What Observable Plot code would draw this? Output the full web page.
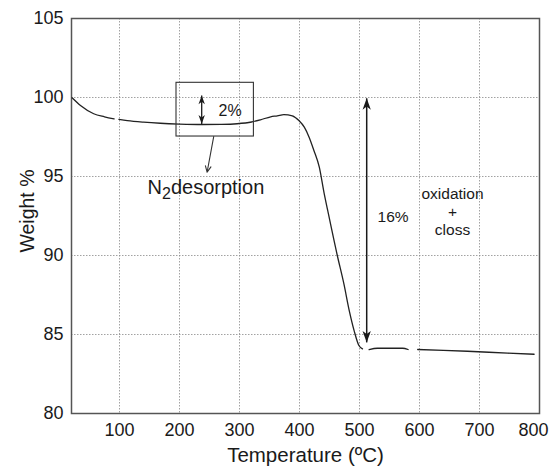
<!DOCTYPE html>
<html>
<head>
<meta charset="utf-8">
<script src="https://cdn.jsdelivr.net/npm/d3@7"></script>
<script src="https://cdn.jsdelivr.net/npm/@observablehq/plot@0.6"></script>
<style>
  body { margin: 0; background: #fff; }
  #chart svg { display: block; }
</style>
</head>
<body>
<div id="chart"></div>
<script>
// ---- data ----
const temperature = [21, 35, 57, 75, 91, 95, 99, 113, 140, 168, 200, 238, 270, 296, 320, 335, 352, 363, 374, 388, 399, 408, 416, 424, 433, 441, 447, 463, 474, 483, 491, 499, 505, 510, 516, 530, 572, 581, 590, 597, 640, 680, 747, 791];
const weight = [99.98, 99.49, 98.97, 98.78, 98.65, null, 98.62, 98.54, 98.44, 98.37, 98.32, 98.29, 98.30, 98.34, 98.45, 98.59, 98.78, 98.84, 98.92, 98.84, 98.54, 98.12, 97.49, 96.65, 95.59, 93.95, 92.85, 90.0, 88.2, 86.5, 85.25, 84.3, 84.09, null, 84.05, 84.13, 84.13, 84.05, null, 84.05, 84.0, 83.94, 83.82, 83.75];

const xTicks = [100, 200, 300, 400, 500, 600, 700, 800];
const yTicks = [80, 85, 90, 95, 100, 105];
const xLabel = "Temperature (ºC)";
const yLabel = "Weight %";

// annotation: box around the N2 desorption step
const boxX = [195, 324];
const boxY = [97.53, 100.93];
// small double arrow (2%)
const smallArrowX = 237;
const smallArrowY = [98.33, 100.13];
// pointer arrow from box to label
const pointerFrom = [257, 97.53];
const pointerTo = [246, 95.27];
// big double arrow (16%)
const bigArrowX = 512;
const bigArrowY = [84.5, 99.95];

// text annotations
const stepText = "2%";
const stepPos = [265, 99.15];
const desorptionText = "N2desorption";
const desorptionPos = [244, 94.3];
const lossText = "16%";
const lossPos = [556, 92.45];
const oxidationText = "oxidation\n+\ncloss";
const oxidationPos = [655, 92.8];

// ---- build ----
const series = temperature.map((t, i) => ({t, w: weight[i]}));

function headSymbol(dir) {
  return {
    draw(ctx, size) {
      const L = Math.sqrt(size);
      const w = L * 0.36;
      const s = dir; // 1 => pointing up, -1 => pointing down
      ctx.moveTo(0, 0);
      ctx.lineTo(w, s * L);
      ctx.lineTo(0, s * L * 0.72);
      ctx.lineTo(-w, s * L);
      ctx.closePath();
    }
  };
}
const upHead = headSymbol(1);
const downHead = headSymbol(-1);

const ink = "#1a1a1a";
const gridStyle = {stroke: "#8a8a8a", strokeOpacity: 1, strokeWidth: 0.8, strokeDasharray: "1.5,1.5"};

const chart = Plot.plot({
  width: 549,
  height: 468,
  marginLeft: 71,
  marginRight: 10,
  marginTop: 18,
  marginBottom: 55,
  style: {fontFamily: "'Liberation Sans', Arial, Helvetica, sans-serif", color: ink, background: "#fff"},
  x: {domain: [20, 800]},
  y: {domain: [80, 105]},
  marks: [
    Plot.gridX(xTicks.slice(0, -1), gridStyle),
    Plot.gridY(yTicks.slice(1, -1), gridStyle),
    Plot.axisX(xTicks.slice(0, -1), {tickSize: 0, tickPadding: 10, fontSize: 18, label: null}),
    Plot.axisX(xTicks.slice(-1), {tickSize: 0, tickPadding: 10, fontSize: 18, label: null, dx: -6}),
    Plot.axisY(yTicks, {tickSize: 0, tickPadding: 8, fontSize: 18, label: null}),
    Plot.text([xLabel], {frameAnchor: "bottom", dy: 42, textAnchor: "middle", lineAnchor: "middle", fontSize: 20.5, fill: ink}),
    Plot.text([yLabel], {frameAnchor: "left", dx: -44, dy: -5, rotate: -90, textAnchor: "middle", lineAnchor: "middle", fontSize: 19.5, fill: ink}),
    Plot.frame({stroke: "#555", strokeWidth: 1.5}),
    Plot.line(series, {x: "t", y: "w", stroke: "#222", strokeWidth: 1.3, curve: "monotone-x"}),
    // box
    Plot.rect([{x1: boxX[0], x2: boxX[1], y1: boxY[0], y2: boxY[1]}], {x1: "x1", x2: "x2", y1: "y1", y2: "y2", fill: "none", stroke: "#333", strokeWidth: 1.1}),
    // small double arrow
    Plot.link([{x: smallArrowX, y1: smallArrowY[0], y2: smallArrowY[1]}], {x1: "x", x2: "x", y1: "y1", y2: "y2", stroke: ink, strokeWidth: 1.3}),
    Plot.dot([{x: smallArrowX, y: smallArrowY[1]}], {x: "x", y: "y", symbol: upHead, r: 5, fill: ink, stroke: null}),
    Plot.dot([{x: smallArrowX, y: smallArrowY[0]}], {x: "x", y: "y", symbol: downHead, r: 5, fill: ink, stroke: null}),
    // pointer arrow
    Plot.arrow([{x1: pointerFrom[0], y1: pointerFrom[1], x2: pointerTo[0], y2: pointerTo[1]}], {x1: "x1", y1: "y1", x2: "x2", y2: "y2", stroke: "#333", strokeWidth: 1.1, headLength: 9, headAngle: 50}),
    // big double arrow
    Plot.link([{x: bigArrowX, y1: bigArrowY[0], y2: bigArrowY[1]}], {x1: "x", x2: "x", y1: "y1", y2: "y2", stroke: ink, strokeWidth: 1.5}),
    Plot.dot([{x: bigArrowX, y: bigArrowY[1]}], {x: "x", y: "y", symbol: upHead, r: 6.5, fill: ink, stroke: null}),
    Plot.dot([{x: bigArrowX, y: bigArrowY[0]}], {x: "x", y: "y", symbol: downHead, r: 6.5, fill: ink, stroke: null}),
    // labels
    Plot.text([stepText], {x: stepPos[0], y: stepPos[1], textAnchor: "start", lineAnchor: "middle", fontSize: 16, fill: ink}),
    Plot.text([desorptionText], {x: desorptionPos[0], y: desorptionPos[1], textAnchor: "middle", lineAnchor: "middle", fontSize: 20, fill: ink}),
    Plot.text([lossText], {x: lossPos[0], y: lossPos[1], textAnchor: "middle", lineAnchor: "middle", fontSize: 15.5, fill: ink}),
    Plot.text([oxidationText], {x: oxidationPos[0], y: oxidationPos[1], textAnchor: "middle", lineAnchor: "middle", lineHeight: 1.15, fontSize: 15.5, fill: ink})
  ]
});

document.getElementById("chart").appendChild(chart);

// subscript for N2
d3.select(chart).selectAll("text").filter(function () { return this.textContent === "N2desorption"; })
  .each(function () {
    const t = d3.select(this);
    t.text(null);
    t.append("tspan").text("N");
    t.append("tspan").attr("dy", "0.32em").attr("font-size", "0.8em").text("2");
    t.append("tspan").attr("dy", "-0.256em").text("desorption");
  });
</script>
</body>
</html>
